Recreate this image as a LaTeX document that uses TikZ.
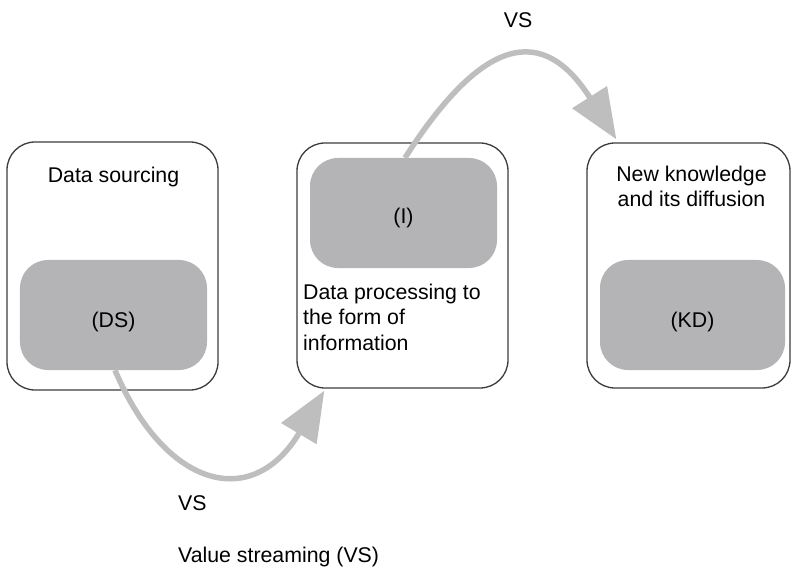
\documentclass[tikz,border=0pt]{standalone}
\usepackage{fontspec}
\setmainfont{Liberation Sans}
\usetikzlibrary{arrows.meta,calc}
\definecolor{boxline}{RGB}{60,60,60}
\definecolor{boxfill}{RGB}{180,180,182}
\definecolor{flowgray}{RGB}{190,190,190}
\begin{document}
\begin{tikzpicture}[x=1bp,y=-1bp,
  outerbox/.style={draw=boxline,line width=1.3bp,rounded corners=28bp,fill=white,inner sep=0,minimum width=#1},
  innerbox/.style={fill=boxfill,rounded corners=28bp,inner sep=0,minimum width=187bp,minimum height=110bp},
  lbl/.style={inner sep=0,font=\fontsize{21.3bp}{25bp}\selectfont,text=black},
  flow/.style={draw=flowgray,line width=5.5bp,-{Triangle[length=50bp,width=40bp]}}]
\useasboundingbox (0,0) rectangle (792,571);
% outer boxes
\node[outerbox=211bp,minimum height=248bp] (S) at (112.5,266) {};
\node[outerbox=211bp,minimum height=245bp] (P) at (402.5,265.5) {};
\node[outerbox=203bp,minimum height=245bp] (K) at (688.5,265.5) {};
% inner boxes
\node[innerbox] (DS) at (113.5,315) {};
\node[innerbox] (I) at (403.5,213) {};
\node[innerbox,minimum width=185bp] (KD) at (692.5,315) {};
% texts
\node[lbl,anchor=base] (t1) at (113.5,183) {Data sourcing};
\node[lbl,anchor=base] (t2) at (113.5,327) {(DS)};
\node[lbl,anchor=base] (t3) at (403.5,224) {(I)};
\node[lbl,anchor=base west] (t4) at (303,299) {Data processing to};
\node[lbl,anchor=base west] (t5) at (303,324.5) {the form of};
\node[lbl,anchor=base west] (t6) at (303,350) {information};
\node[lbl,anchor=base] (t7) at (691.5,182) {New knowledge};
\node[lbl,anchor=base] (t8) at (691.5,207) {and its diffusion};
\node[lbl,anchor=base] (t9) at (692.5,327) {(KD)};
\node[lbl,anchor=base] (vs1) at (518,28) {VS};
\node[lbl,anchor=base west] (vs2) at (178,510) {VS};
\node[lbl,anchor=base west] (vs3) at (178,562) {Value streaming (VS)};
% arrow ends
\coordinate (a1) at ($(DS.south)+(1.5,0)$);
\coordinate (e1) at ($(P.south west)+(28,2)$);
\coordinate (a2) at ($(I.north)+(1.5,0)$);
\coordinate (e2) at ($(K.north west)+(30,-3)$);
\draw[flow] (a1) .. controls +(50,118) and +(-72,121) .. (e1);
\draw[flow] (a2) .. controls +(68,-106) and +(-80,-126) .. (e2);
\end{tikzpicture}
\end{document}
